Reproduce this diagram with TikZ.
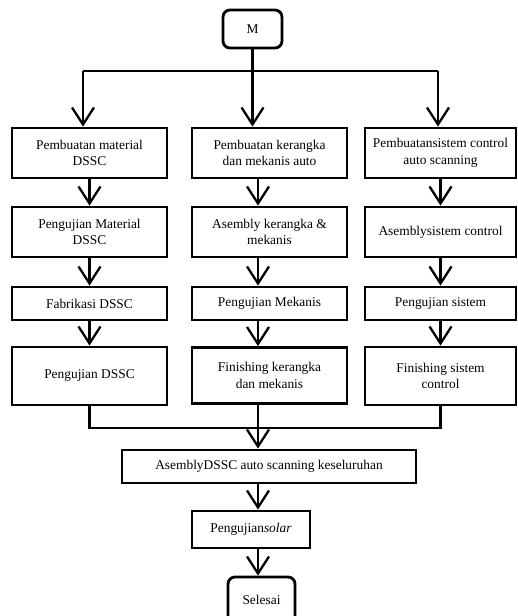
\documentclass[tikz,border=0pt]{standalone}
\usepackage{fontspec}
\setmainfont{Liberation Serif}
\usetikzlibrary{arrows.meta}
\begin{document}
\begin{tikzpicture}[x=1pt,y=-1pt,
  box/.style={draw,line width=2.8pt,minimum width=155pt,minimum height=50pt,align=center,inner sep=2pt,font=\fontsize{13.4}{16.5}\selectfont},
  term/.style={box,rounded corners=7pt},
  flow/.style={line width=2.3pt,-{Straight Barb[length=17pt,width=22pt,line width=2.3pt]}},
  link/.style={line width=2.3pt}]
\useasboundingbox (0,0) rectangle (518,616);
\node[term,minimum width=59pt,minimum height=38pt] (m) at (252.5,29) {M};
\node[box] (c1a) at (89.5,153) {Pembuatan material\\DSSC};
\node[box] (c1b) at (89.5,232) {Pengujian Material\\DSSC};
\node[box,minimum height=33pt] (c1c) at (89.5,303.5) {Fabrikasi DSSC};
\node[box,minimum height=58pt] (c1d) at (89.5,376) {Pengujian DSSC};
\node[box] (c2a) at (269.5,153) {Pembuatan kerangka\\dan mekanis auto};
\node[box] (c2b) at (269.5,232) {Asembly kerangka \&\\mekanis};
\node[box,minimum height=33pt] (c2c) at (269.5,303.5) {Pengujian Mekanis};
\node[box,minimum height=56pt] (c2d) at (269.5,375.5) {Finishing kerangka\\dan mekanis};
\node[box,minimum width=151pt] (c3a) at (440.5,153) {Pembuatansistem control\\auto scanning};
\node[box,minimum width=151pt] (c3b) at (440.5,232) {Asemblysistem control};
\node[box,minimum width=151pt,minimum height=33pt] (c3c) at (440.5,303.5) {Pengujian sistem};
\node[box,minimum width=151pt,minimum height=58pt] (c3d) at (440.5,376) {Finishing sistem\\control};
\node[box,minimum width=294pt,minimum height=33pt] (asm) at (269,466.5) {AsemblyDSSC auto scanning keseluruhan};
\node[box,minimum width=118pt,minimum height=37pt] (uji) at (251,529.5) {Pengujian\textit{solar}};
\node[term,minimum width=67pt,minimum height=46pt] (end) at (261.5,600) {Selesai};
\coordinate (ax2) at (258,0);
\coordinate (sl) at (83,71);
\coordinate (sr) at (438,71);
\coordinate (j) at (258,428);
\draw[flow] (m.south) -- (m.south |- c2a.north);
\draw[link] (sl) -- (sr);
\draw[flow] (sl) -- (sl |- c1a.north);
\draw[flow] (sr) -- (sr |- c3a.north);
\draw[flow] (c1a) -- (c1b);
\draw[flow] (c1b) -- (c1c);
\draw[flow] (c1c) -- (c1d);
\draw[flow] (c2a.south -| ax2) -- (c2b.north -| ax2);
\draw[flow] (c2b.south -| ax2) -- (c2c.north -| ax2);
\draw[flow] (c2c.south -| ax2) -- (c2d.north -| ax2);
\draw[flow] (c3a) -- (c3b);
\draw[flow] (c3b) -- (c3c);
\draw[flow] (c3c) -- (c3d);
\draw[link] (c1d.south) |- (j) -| (c3d.south);
\draw[flow] (c2d.south -| ax2) -- (asm.north -| ax2);
\draw[flow] (asm.south -| ax2) -- (uji.north -| ax2);
\draw[flow] (uji.south -| ax2) -- (end.north -| ax2);
\end{tikzpicture}
\end{document}
